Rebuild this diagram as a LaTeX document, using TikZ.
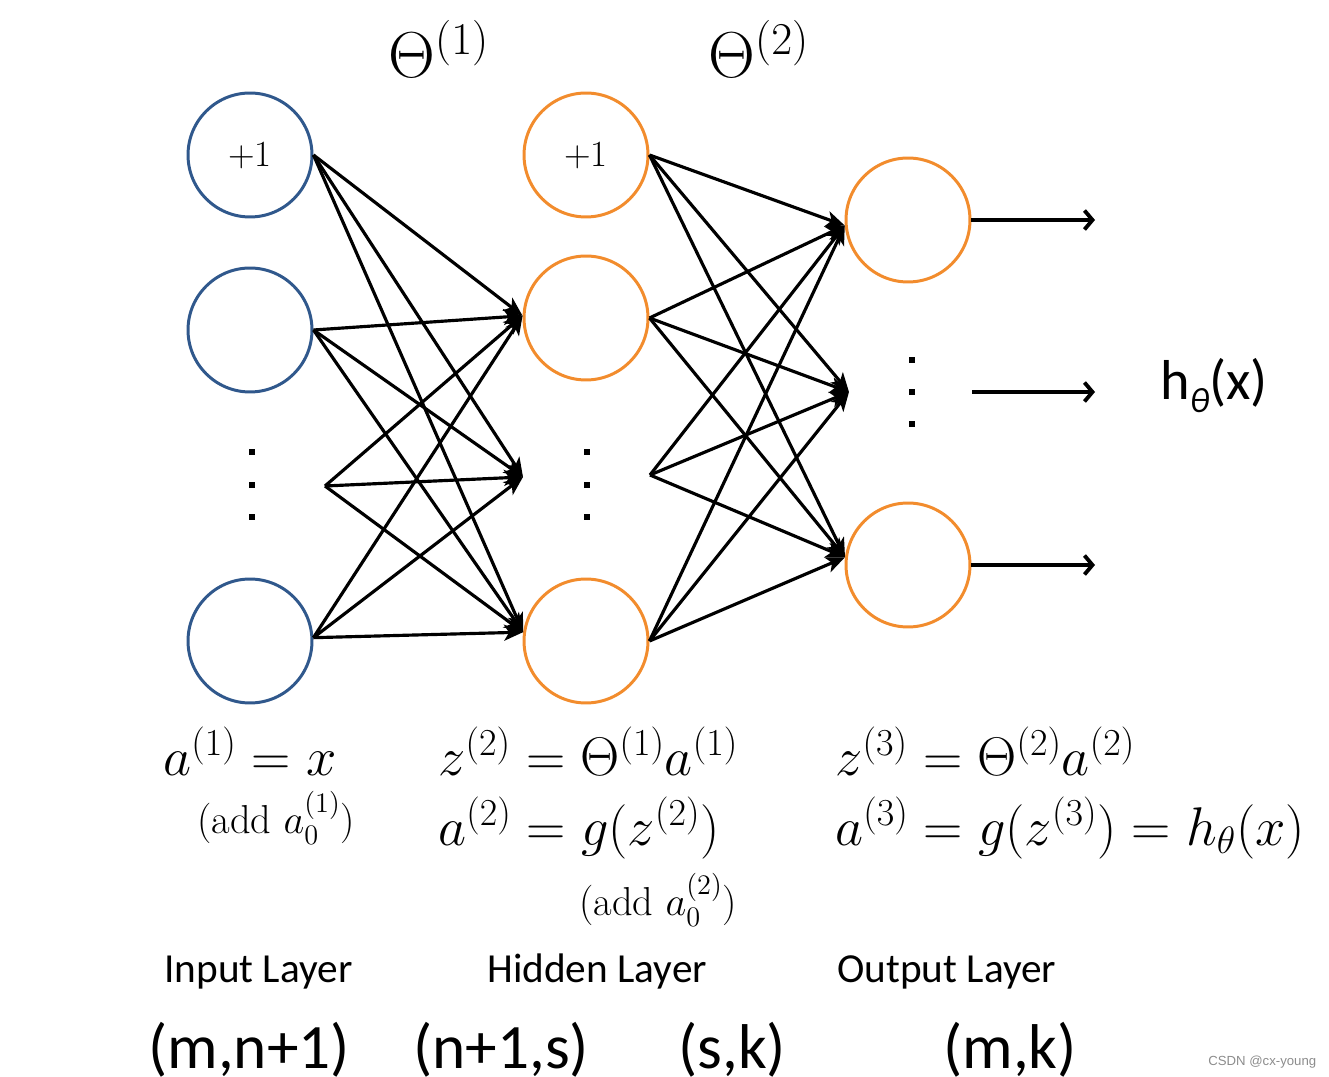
\RequirePackage{fix-cm}
\documentclass[tikz,border=0pt]{standalone}
\usepackage{amsmath}
\usepackage{fontspec}
\newfontfamily\calfont{Carlito}
\newfontfamily\wmfont{Liberation Sans}
\usetikzlibrary{arrows.meta}
\definecolor{inblue}{RGB}{48,88,140}
\definecolor{hidorange}{RGB}{242,140,45}
\definecolor{wmgrey}{RGB}{140,140,140}
\begin{document}
\begin{tikzpicture}[x=0.02cm,y=-0.02cm,
  neuron/.style={circle,draw,line width=1.7pt,minimum size=2.48cm,inner sep=0pt,font=\fontsize{21}{25}\selectfont},
  innode/.style={neuron,draw=inblue},
  hidnode/.style={neuron,draw=hidorange},
  dotmark/.style={rectangle,fill=black,minimum size=0.13cm,inner sep=0pt},
  edge/.style={line width=1.8pt,-{Stealth[length=0.38cm,width=0.32cm,inset=0.1cm]}},
  outarrow/.style={line width=2.2pt,-{Straight Barb[length=0.16cm,width=0.38cm,line width=2.2pt]}},
  eq/.style={anchor=base west,inner sep=0pt,font=\fontsize{31}{37}\selectfont},
  addnote/.style={anchor=base west,inner sep=0pt,font=\fontsize{23}{27}\selectfont},
  theta/.style={anchor=base west,inner sep=0pt,font=\fontsize{37}{44}\selectfont},
  layerlab/.style={anchor=base west,inner sep=0pt,font=\calfont\fontsize{23.5}{28}\selectfont},
  dimlab/.style={anchor=base west,inner sep=0pt,font=\calfont\fontsize{36}{42}\selectfont}
]
\useasboundingbox (0,0) rectangle (1329,1077);

% input layer
\node[innode] (i1) at (250,155) {+1};
\node[innode] (i2) at (250,330) {};
\node[innode] (i4) at (250,641) {};
\node[dotmark] (id1) at (252,452) {};
\node[dotmark] (id2) at (252,485) {};
\node[dotmark] (id3) at (252,517) {};
\coordinate (isrc) at (325,486);

% hidden layer
\node[hidnode] (h1) at (586,155) {+1};
\node[hidnode] (h2) at (586,318) {};
\node[hidnode] (h4) at (586,641) {};
\node[dotmark] (hd1) at (587,452) {};
\node[dotmark] (hd2) at (587,485) {};
\node[dotmark] (hd3) at (587,517) {};
\coordinate (htgt) at (523,477);
\coordinate (hsrc) at (650,475);

% output layer
\node[hidnode] (o1) at (908,220) {};
\node[hidnode] (o3) at (908,565) {};
\node[dotmark] (od1) at (912,360) {};
\node[dotmark] (od2) at (912,392) {};
\node[dotmark] (od3) at (912,424) {};
\coordinate (otgt) at (849,392);

% input -> hidden
\foreach \s in {i1.east,i2.east,isrc,i4.3}{
  \draw[edge] (\s) -- (h2.178);
  \draw[edge] (\s) -- (htgt);
  \draw[edge] (\s) -- (h4.172);
}
% hidden -> output
\foreach \s in {h1.east,h2.east,hsrc,h4.east}{
  \draw[edge] (\s) -- (o1.185);
  \draw[edge] (\s) -- (otgt);
  \draw[edge] (\s) -- (o3.173);
}

% output arrows
\coordinate (y1) at (1095,220);
\coordinate (y2s) at (972,392);
\coordinate (y2) at (1095,392);
\coordinate (y3) at (1095,565);
\draw[outarrow] (o1.east) -- (y1);
\draw[outarrow] (y2s) -- (y2);
\draw[outarrow] (o3.east) -- (y3);

\node[anchor=base west,inner sep=0pt,font=\calfont\fontsize{32}{38}\selectfont] (hx) at (1160,400)
  {h\raisebox{-0.22em}{\fontsize{20}{24}\selectfont\itshape θ}(x)};

% Theta labels
\node[theta] (t1) at (388,78) {$\Theta^{(1)}$};
\node[theta] (t2) at (708,78) {$\Theta^{(2)}$};

% equations
\node[eq] (e1) at (163,775) {$a^{(1)} = x$};
\node[addnote] (n1) at (197,833) {(add $a_0^{(1)}$)};
\node[eq] (e2) at (438,775) {$z^{(2)} = \Theta^{(1)}a^{(1)}$};
\node[eq] (e3) at (438,845) {$a^{(2)} = g(z^{(2)})$};
\node[addnote] (n2) at (579,915) {(add $a_0^{(2)}$)};
\node[eq] (e4) at (835,775) {$z^{(3)} = \Theta^{(2)}a^{(2)}$};
\node[eq] (e5) at (835,845) {$a^{(3)} = g(z^{(3)}) = h_\theta(x)$};

% layer labels
\node[layerlab] (l1) at (164,982) {Input Layer};
\node[layerlab] (l2) at (487,982) {Hidden Layer};
\node[layerlab] (l3) at (837,982) {Output Layer};

% dimensions
\node[dimlab] (d1) at (148,1068) {(m,n+1)};
\node[dimlab] (d2) at (413,1068) {(n+1,s)};
\node[dimlab] (d3) at (678,1068) {(s,k)};
\node[dimlab] (d4) at (943,1068) {(m,k)};

\node[anchor=base west,inner sep=0pt,text=wmgrey,font=\wmfont\fontsize{7.5}{9}\selectfont] (wm) at (1208,1065) {CSDN @cx-young};
\end{tikzpicture}
\end{document}
